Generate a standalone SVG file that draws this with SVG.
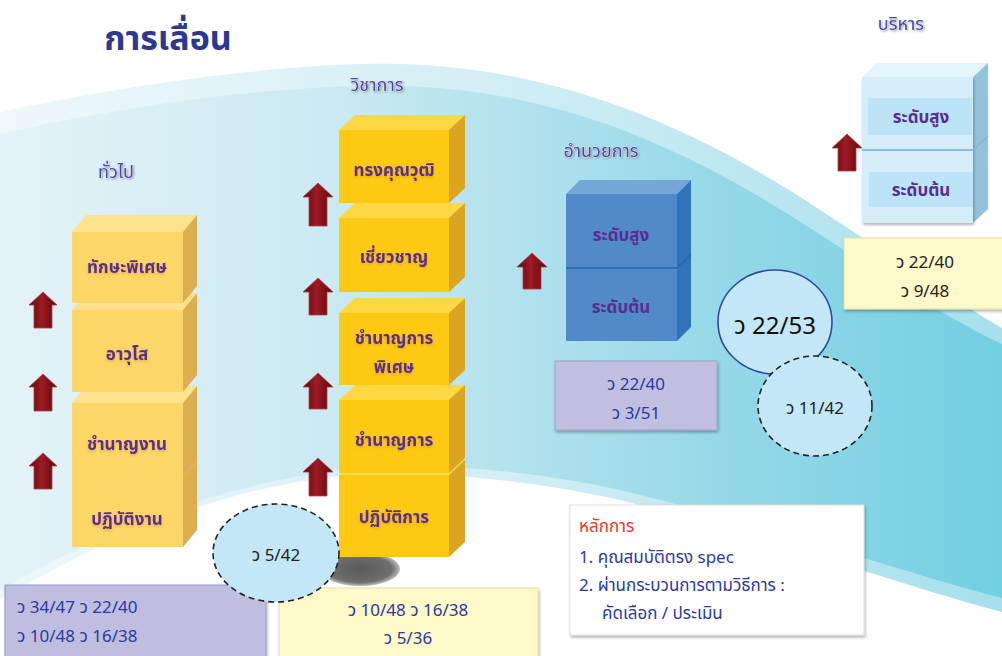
<svg xmlns="http://www.w3.org/2000/svg" width="1002" height="656" viewBox="0 0 1002 656">
<defs>
<linearGradient id="bandOuter" x1="0" y1="0" x2="1" y2="0">
<stop offset="0" stop-color="#eef8fb"/>
<stop offset="0.5" stop-color="#d2eef5"/>
<stop offset="1" stop-color="#a6e0ec"/>
</linearGradient>
<linearGradient id="bandMain" x1="0" y1="0" x2="1" y2="0">
<stop offset="0" stop-color="#e4f3f8"/>
<stop offset="0.35" stop-color="#c9e9f1"/>
<stop offset="0.7" stop-color="#98d9e8"/>
<stop offset="1" stop-color="#72cfe2"/>
</linearGradient>
<linearGradient id="arrowGrad" x1="0" y1="0" x2="1" y2="0">
<stop offset="0" stop-color="#5c070c"/>
<stop offset="0.45" stop-color="#9e1c24"/>
<stop offset="1" stop-color="#5a080c"/>
</linearGradient>
<radialGradient id="shadowGrad" cx="0.5" cy="0.5" r="0.5">
<stop offset="0" stop-color="#5a5a5a"/>
<stop offset="0.8" stop-color="#6e6e6e"/>
<stop offset="1" stop-color="#8a8a8a" stop-opacity="0.6"/>
</radialGradient>
<filter id="ds" x="-10%" y="-10%" width="130%" height="140%">
<feDropShadow dx="1" dy="2" stdDeviation="1.5" flood-color="#000" flood-opacity="0.3"/>
</filter>
<filter id="ts" x="-10%" y="-30%" width="120%" height="180%">
<feDropShadow dx="0" dy="1.5" stdDeviation="1" flood-color="#c08020" flood-opacity="0.45"/>
</filter>
<filter id="hs" x="-10%" y="-30%" width="120%" height="180%">
<feDropShadow dx="1" dy="1" stdDeviation="0.8" flood-color="#888" flood-opacity="0.8"/>
</filter>
</defs>
<style>
.th{font-family:"Noto Sans Thai","Noto Sans","DejaVu Sans",sans-serif;}
.lbl{font-size:17px;font-weight:bold;fill:#5a2d91;text-anchor:middle;}
.hdr{font-size:18px;fill:#4a46a6;text-anchor:middle;stroke:#ffffff;stroke-width:0.6;paint-order:stroke;}
.num{font-size:17px;fill:#2b3a9c;}
.numk{font-size:17px;fill:#222;text-anchor:middle;}
.gy-front{fill:#fdd668;}
.gy-top{fill:#fee28e;}
.gy-side{fill:#ddae4f;}
.ay-front{fill:#fdc913;}
.ay-top{fill:#fed843;}
.ay-side{fill:#dba421;}
.b-front{fill:#5289c9;}
.b-top{fill:#74a6d8;}
.b-side{fill:#2f73bb;}
.lb-front{fill:#d5edf8;}
.lb-top{fill:#e4f4fb;}
.lb-side{fill:#93c3dc;}
.arrow{fill:url(#arrowGrad);stroke:#b04048;stroke-width:0.8;}
</style>

<!-- background -->
<rect x="0" y="0" width="1002" height="656" fill="#ffffff"/>
<path d="M0,112 C150,80 300,62 400,64 C560,68 700,130 820,210 C900,262 960,304 1002,328 L1002,612 C900,585 780,540 620,500 C520,478 420,470 340,476 C220,488 100,540 0,600 Z" fill="url(#bandOuter)"/>
<path d="M0,134 C150,100 300,84 400,86 C560,90 690,150 810,228 C890,280 950,320 1002,344 L1002,598 C900,572 780,528 620,490 C520,468 420,462 340,470 C220,484 100,532 0,590 Z" fill="url(#bandMain)"/>

<!-- title and headers -->
<text class="th" x="168" y="50" font-size="34" font-weight="bold" fill="#2b3990" text-anchor="middle">การเลื่อน</text>
<text class="th hdr" x="377" y="91" filter="url(#hs)">วิชาการ</text>
<text class="th hdr" x="116" y="178" filter="url(#hs)">ทั่วไป</text>
<text class="th hdr" x="601" y="157" filter="url(#hs)">อำนวยการ</text>
<text class="th hdr" x="901" y="30" filter="url(#hs)">บริหาร</text>

<!-- general column -->
<g id="node-general-4">
<polygon class="gy-top" points="72,477 86,460 197,460 183,477"/>
<polygon class="gy-side" points="183,477 197,460 197,530 183,547"/>
<rect class="gy-front" x="72" y="477" width="111" height="70"/>
<text class="th lbl" x="127" y="525" filter="url(#ts)">ปฏิบัติงาน</text>
</g>
<g id="node-general-3">
<polygon class="gy-top" points="72,403 86,386 197,386 183,403"/>
<polygon class="gy-side" points="183,403 197,386 197,460 183,477"/>
<rect class="gy-front" x="72" y="403" width="111" height="74"/>
<text class="th lbl" x="127" y="450" filter="url(#ts)">ชำนาญงาน</text>
</g>
<g id="node-general-2">
<polygon class="gy-top" points="72,310 86,293 197,293 183,310"/>
<polygon class="gy-side" points="183,310 197,293 197,375 183,392"/>
<rect class="gy-front" x="72" y="310" width="111" height="82"/>
<text class="th lbl" x="127" y="360" filter="url(#ts)">อาวุโส</text>
</g>
<g id="node-general-1">
<polygon class="gy-top" points="72,232 86,215 197,215 183,232"/>
<polygon class="gy-side" points="183,232 197,215 197,286 183,303"/>
<rect class="gy-front" x="72" y="232" width="111" height="71"/>
<text class="th lbl" x="127" y="273" filter="url(#ts)">ทักษะพิเศษ</text>
</g>

<!-- academic column -->
<ellipse cx="360" cy="569" rx="40" ry="17" fill="url(#shadowGrad)"/>
<g id="node-academic-5">
<polygon class="ay-top" points="339,475 355,460 465,460 449,475"/>
<polygon class="ay-side" points="449,475 465,460 465,542 449,557"/>
<rect class="ay-front" x="339" y="475" width="110" height="82"/>
<text class="th lbl" x="394" y="523" filter="url(#ts)">ปฏิบัติการ</text>
</g>
<g id="node-academic-4">
<polygon class="ay-top" points="339,400 355,385 465,385 449,400"/>
<polygon class="ay-side" points="449,400 465,385 465,458 449,473"/>
<rect class="ay-front" x="339" y="400" width="110" height="73"/>
<text class="th lbl" x="394" y="446" filter="url(#ts)">ชำนาญการ</text>
</g>
<g id="node-academic-3">
<polygon class="ay-top" points="339,313 355,298 465,298 449,313"/>
<polygon class="ay-side" points="449,313 465,298 465,370 449,385"/>
<rect class="ay-front" x="339" y="313" width="110" height="72"/>
<text class="th lbl" x="394" y="344" filter="url(#ts)">ชำนาญการ</text>
<text class="th lbl" x="394" y="373" filter="url(#ts)">พิเศษ</text>
</g>
<g id="node-academic-2">
<polygon class="ay-top" points="339,218 355,203 465,203 449,218"/>
<polygon class="ay-side" points="449,218 465,203 465,277 449,292"/>
<rect class="ay-front" x="339" y="218" width="110" height="74"/>
<text class="th lbl" x="394" y="263" filter="url(#ts)">เชี่ยวชาญ</text>
</g>
<g id="node-academic-1">
<polygon class="ay-top" points="339,130 355,115 465,115 449,130"/>
<polygon class="ay-side" points="449,130 465,115 465,188 449,203"/>
<rect class="ay-front" x="339" y="130" width="110" height="73"/>
<text class="th lbl" x="394" y="176" filter="url(#ts)">ทรงคุณวุฒิ</text>
</g>

<!-- director column -->
<g id="node-director">
<polygon class="b-top" points="566,194 580,180 691,180 677,194"/>
<polygon class="b-side" points="677,194 691,180 691,327 677,341"/>
<rect class="b-front" x="566" y="194" width="111" height="147"/>
<line x1="566" y1="268" x2="677" y2="268" stroke="#2f6fb5" stroke-width="2"/>
<line x1="677" y1="268" x2="691" y2="254" stroke="#2a66a8" stroke-width="1.5"/>
<text class="th lbl" x="621" y="241">ระดับสูง</text>
<text class="th lbl" x="621" y="313">ระดับต้น</text>
</g>

<!-- executive column -->
<g id="node-executive">
<polygon class="lb-top" points="862,77 877,63 988,63 973,77"/>
<polygon class="lb-side" points="973,77 988,63 988,209 973,223"/>
<rect class="lb-front" x="862" y="77" width="111" height="146" filter="url(#ds)"/>
<rect x="868" y="98" width="104" height="37" fill="#bde4f6"/>
<rect x="869" y="172" width="104" height="35" fill="#bde4f6"/>
<line x1="862" y1="150" x2="973" y2="150" stroke="#8fbfd6" stroke-width="2"/>
<line x1="973" y1="150" x2="988" y2="136" stroke="#86b5cc" stroke-width="1.5"/>
<text class="th lbl" x="921" y="123">ระดับสูง</text>
<text class="th lbl" x="921" y="196">ระดับต้น</text>
</g>

<!-- arrows -->
<g id="connectors">
<polygon class="arrow" points="43,292 57,305 52,305 52,328 34,328 34,305 29,305"/>
<polygon class="arrow" points="43,374 57,387 52,387 52,411 34,411 34,387 29,387"/>
<polygon class="arrow" points="43,453 57,466 52,466 52,489 34,489 34,466 29,466"/>
<polygon class="arrow" points="318,183 333,197 327,197 327,226 309,226 309,197 303,197"/>
<polygon class="arrow" points="318,278 333,292 327,292 327,315 309,315 309,292 303,292"/>
<polygon class="arrow" points="318,373 333,387 327,387 327,409 309,409 309,387 303,387"/>
<polygon class="arrow" points="318,458 333,472 327,472 327,496 309,496 309,472 303,472"/>
<polygon class="arrow" points="532,253 547,267 541,267 541,289 523,289 523,267 517,267"/>
<polygon class="arrow" points="847,134 862,148 856,148 856,171 838,171 838,148 832,148"/>
</g>

<!-- info boxes -->
<g id="box-general-refs">
<rect x="5" y="585" width="261" height="80" fill="#bfbde0" stroke="#9a98c8" stroke-width="1" filter="url(#ds)"/>
<text class="th num" x="17" y="613">ว 34/47 ว 22/40</text>
<text class="th num" x="17" y="642">ว 10/48 ว 16/38</text>
</g>
<g id="box-academic-refs">
<rect x="279" y="588" width="259" height="80" fill="#fff8c8" stroke="#e6dfa8" stroke-width="1" filter="url(#ds)"/>
<text class="th num" x="408" y="616" text-anchor="middle">ว 10/48 ว 16/38</text>
<text class="th num" x="408" y="644" text-anchor="middle">ว 5/36</text>
</g>
<g id="box-director-refs">
<rect x="555" y="361" width="162" height="69" fill="#c0bfe0" stroke="#a09ec8" stroke-width="1" filter="url(#ds)"/>
<text class="th num" x="636" y="390" text-anchor="middle">ว 22/40</text>
<text class="th num" x="636" y="419" text-anchor="middle">ว 3/51</text>
</g>
<g id="box-executive-refs">
<rect x="844" y="238" width="170" height="71" fill="#fff8c8" stroke="#e6dfa8" stroke-width="1" filter="url(#ds)"/>
<text class="th numk" x="925" y="268">ว 22/40</text>
<text class="th numk" x="925" y="297">ว 9/48</text>
</g>

<!-- circles -->
<g id="circle-5-42">
<ellipse cx="276" cy="553" rx="63" ry="49" fill="#c3e7f7" stroke="#222" stroke-width="1.6" stroke-dasharray="6,4"/>
<text class="th numk" x="276" y="561">ว 5/42</text>
</g>
<g id="circle-22-53">
<ellipse cx="775" cy="322" rx="57" ry="52" fill="#c3e7f7" stroke="#2e4aa0" stroke-width="1.6"/>
<text class="th" x="775" y="334" font-size="24" fill="#111" text-anchor="middle">ว 22/53</text>
</g>
<g id="circle-11-42">
<ellipse cx="815" cy="406" rx="57" ry="50" fill="#c3e7f7" stroke="#222" stroke-width="1.6" stroke-dasharray="6,4"/>
<text class="th numk" x="815" y="414">ว 11/42</text>
</g>

<!-- principles -->
<g id="principles">
<rect x="570" y="505" width="294" height="130" fill="#ffffff" stroke="#dddddd" stroke-width="1" filter="url(#ds)"/>
<text class="th" x="579" y="532" font-size="17" fill="#e8372c">หลักการ</text>
<text class="th num" x="579" y="563">1. คุณสมบัติตรง spec</text>
<text class="th num" x="579" y="591">2. ผ่านกระบวนการตามวิธีการ :</text>
<text class="th num" x="602" y="619">คัดเลือก / ประเมิน</text>
</g>
</svg>
